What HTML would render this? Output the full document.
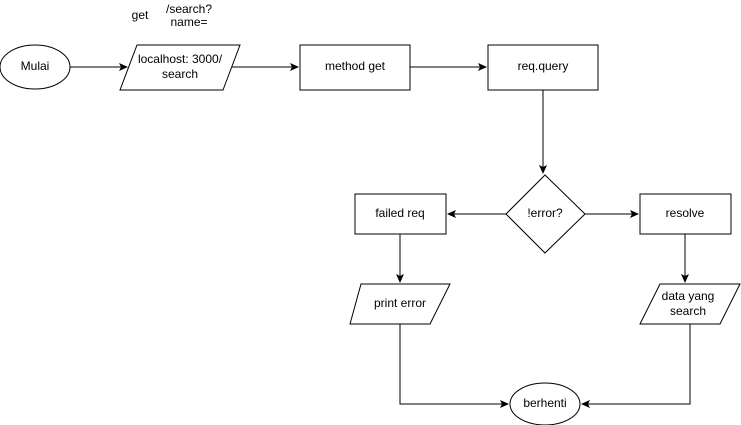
<!DOCTYPE html>
<html><head><style>body{margin:0;background:#fff}svg{display:block}text{font-family:"Liberation Sans",Arial,sans-serif;font-size:12px;fill:#000;text-anchor:middle;dominant-baseline:middle}</style></head>
<body>
<svg width="741" height="425" viewBox="0 0 741 425">
<defs><marker id="a" markerWidth="10" markerHeight="10" refX="8" refY="5" orient="auto" markerUnits="userSpaceOnUse"><path d="M0,1 L9,5 L0,9 L2,5 Z" fill="#000"/></marker></defs>
<g fill="#fff" stroke="#000" stroke-width="1">
<ellipse cx="35" cy="67" rx="35" ry="22"/>
<polygon points="137,45 240,45 223,90 120,90"/>
<rect x="300" y="45" width="110" height="45"/>
<rect x="488" y="45" width="110" height="45"/>
<polygon points="545,175 585,214 545,253 506,214"/>
<rect x="355" y="194" width="91" height="40"/>
<rect x="640" y="194" width="91" height="40"/>
<polygon points="361,284 450,284 430,324 350,324"/>
<polygon points="660,284 740,284 720,324 640,324"/>
<ellipse cx="545" cy="404" rx="35" ry="21"/>
</g>
<g fill="none" stroke="#000" stroke-width="1" marker-end="url(#a)">
<path d="M70,67 H127"/>
<path d="M232,67 H298"/>
<path d="M410,67 H486"/>
<path d="M543,90 V173"/>
<path d="M506,214 H448"/>
<path d="M585,214 H638"/>
<path d="M400,234 V282"/>
<path d="M685,234 V282"/>
<path d="M400,324 V404 H508"/>
<path d="M690,324 V404 H582"/>
</g>
<text x="140" y="16">get</text>
<text x="189" y="10">/search?</text>
<text x="189" y="23">name=</text>
<text x="35" y="67">Mulai</text>
<text x="180" y="60">localhost: 3000/</text>
<text x="180" y="75">search</text>
<text x="355" y="67">method get</text>
<text x="543" y="67">req.query</text>
<text x="545" y="214">!error?</text>
<text x="400" y="214">failed req</text>
<text x="685" y="214">resolve</text>
<text x="400" y="304">print error</text>
<text x="688" y="297">data yang</text>
<text x="688" y="312">search</text>
<text x="545" y="404">berhenti</text>
</svg>
</body></html>
